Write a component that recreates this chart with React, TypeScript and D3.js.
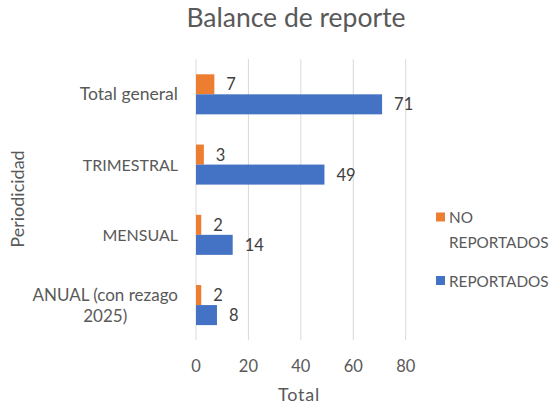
import React, { useEffect, useRef } from "react";
import * as d3 from "d3";

const categories = ["Total general", "TRIMESTRAL", "MENSUAL", "ANUAL (con rezago 2025)"];
const noReportados = [7, 3, 2, 2];
const reportados = [71, 49, 14, 8];
const xTicks = [0, 20, 40, 60, 80];
const seriesNames = ["NO REPORTADOS", "REPORTADOS"];

const W = 559;
const H = 404;
const FONT = "Lato, sans-serif";
const FS = 16.5;
const TEXT = "#595959";
const ORANGE = "#ED7D31";
const BLUE = "#4472C4";

// font sizes tuned per label style (mixed-case wider, caps narrower)
function labelSize(s: string) {
  if (s === s.toUpperCase()) return 16;
  if (s.startsWith("ANUAL")) return 17;
  return 17.6;
}

export default function App() {
  const ref = useRef<SVGSVGElement>(null);

  useEffect(() => {
    const svg = d3.select(ref.current);
    svg.selectAll("*").remove();

    const x = d3.scaleLinear().domain([0, 80]).range([196, 405.7]);
    const y = d3.scaleBand().domain(categories).range([59.2, 340.2]).paddingInner(0.43).paddingOuter(0.215);
    const sub = d3.scaleBand().domain(seriesNames).range([0, y.bandwidth()]);

    svg.append("rect").attr("width", W).attr("height", H).attr("fill", "#fff");

    // title
    svg.append("text").attr("x", 296).attr("y", 27).attr("text-anchor", "middle")
      .attr("font-family", FONT).attr("font-size", 26.5).attr("fill", TEXT).text("Balance de reporte");

    // gridlines
    svg.append("g").selectAll("line").data(xTicks).join("line")
      .attr("x1", (d) => x(d)).attr("x2", (d) => x(d))
      .attr("y1", 59.2).attr("y2", 340.2)
      .attr("stroke", "#D9D9D9").attr("stroke-width", 1);

    // tick labels
    svg.append("g").selectAll("text").data(xTicks).join("text")
      .attr("x", (d) => x(d)).attr("y", 371.5).attr("text-anchor", "middle")
      .attr("font-family", FONT).attr("font-size", FS).attr("fill", TEXT).text((d) => String(d));

    svg.append("text").attr("x", 299).attr("y", 400.5).attr("text-anchor", "middle")
      .attr("font-family", FONT).attr("font-size", 18).attr("letter-spacing", 0.8).attr("fill", TEXT).text("Total");

    svg.append("text").attr("transform", "translate(24,199) rotate(-90)").attr("text-anchor", "middle")
      .attr("font-family", FONT).attr("font-size", 18).attr("fill", TEXT).text("Periodicidad");

    // category labels
    const catG = svg.append("g");
    categories.forEach((c) => {
      const cy = (y(c) as number) + y.bandwidth() / 2;
      const fs = labelSize(c);
      if (c.startsWith("ANUAL")) {
        const t1 = catG.append("text").attr("x", 178).attr("y", cy - 4).attr("text-anchor", "end")
          .attr("font-family", FONT).attr("font-size", fs).attr("fill", TEXT).text("ANUAL (con rezago");
        const w = (t1.node() as SVGTextElement).getComputedTextLength();
        catG.append("text").attr("x", 178 - w / 2).attr("y", cy + 17).attr("text-anchor", "middle")
          .attr("font-family", FONT).attr("font-size", fs).attr("fill", TEXT).text("2025)");
      } else {
        catG.append("text").attr("x", 178).attr("y", cy + 6).attr("text-anchor", "end")
          .attr("font-family", FONT).attr("font-size", fs).attr("fill", TEXT).text(c);
      }
    });

    const series = [
      { name: seriesNames[0], values: noReportados, color: ORANGE },
      { name: seriesNames[1], values: reportados, color: BLUE },
    ];

    series.forEach((s) => {
      const g = svg.append("g");
      g.selectAll("rect").data(categories).join("rect")
        .attr("x", x(0))
        .attr("y", (c) => (y(c) as number) + (sub(s.name) as number))
        .attr("width", (_c, i) => x(s.values[i]) - x(0))
        .attr("height", sub.bandwidth())
        .attr("fill", s.color);
      g.selectAll("text").data(categories).join("text")
        .attr("x", (_c, i) => x(s.values[i]) + 12)
        .attr("y", (c) => (y(c) as number) + (sub(s.name) as number) + sub.bandwidth() / 2 + 6)
        .attr("font-family", FONT).attr("font-size", FS).attr("fill", "#404040")
        .text((_c, i) => String(s.values[i]));
    });

    // legend
    const LFS = 15.3;
    const lg = svg.append("g");
    lg.append("rect").attr("x", 436).attr("y", 212.5).attr("width", 9).attr("height", 9).attr("fill", ORANGE);
    lg.append("text").attr("x", 449).attr("y", 223).attr("font-family", FONT).attr("font-size", LFS).attr("fill", TEXT).text("NO");
    lg.append("text").attr("x", 449).attr("y", 247.5).attr("font-family", FONT).attr("font-size", LFS).attr("fill", TEXT).text("REPORTADOS");
    lg.append("rect").attr("x", 436).attr("y", 276).attr("width", 9).attr("height", 9).attr("fill", BLUE);
    lg.append("text").attr("x", 449).attr("y", 286.5).attr("font-family", FONT).attr("font-size", LFS).attr("fill", TEXT).text("REPORTADOS");
  }, []);

  return (
    <svg ref={ref} width={W} height={H} style={{ position: "absolute", left: 0, top: 0 }} />
  );
}
